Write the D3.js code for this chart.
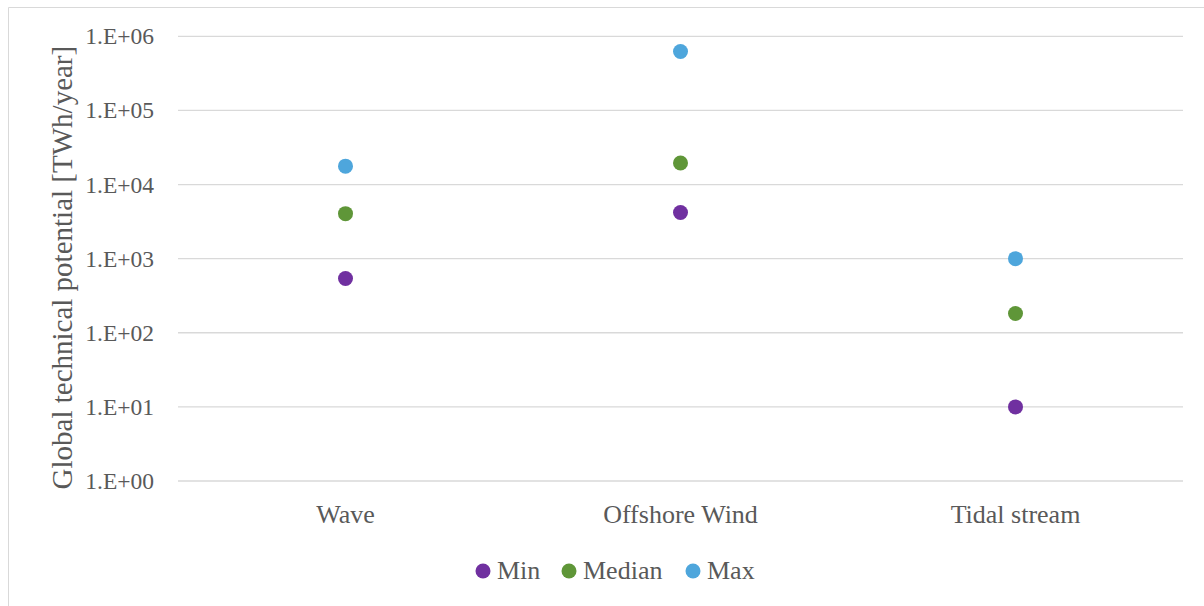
<!DOCTYPE html>
<html>
<head>
<meta charset="utf-8">
<script src="https://cdn.jsdelivr.net/npm/d3@7"></script>
<style>
  html, body { margin: 0; padding: 0; background: #fff; }
  svg { display: block; }
  text { font-family: "Liberation Serif", "DejaVu Serif", serif; fill: #595959; }
</style>
</head>
<body>
<svg id="chart" width="1204" height="606"></svg>
<script>
// Technology categories on the x axis
const categories = ["Wave", "Offshore Wind", "Tidal stream"];
// Global technical potential, TWh/year, per category
const minValues = [540, 4200, 10];
const medianValues = [4050, 19500, 182];
const maxValues = [17700, 625000, 1000];
// Series names and colours for the legend
const seriesNames = ["Min", "Median", "Max"];
const seriesColors = ["#7030a0", "#5f9638", "#4ea6dc"];
// Decade ticks on the log axis
const tickValues = [1, 10, 100, 1000, 10000, 100000, 1000000];
const tickLabels = ["1.E+00", "1.E+01", "1.E+02", "1.E+03", "1.E+04", "1.E+05", "1.E+06"];
const yTitle = "Global technical potential [TWh/year]";

const series = [minValues, medianValues, maxValues];

const svg = d3.select("#chart");
const W = 1204, H = 606;
const plot = { left: 178, right: 1183, top: 36.3, bottom: 481 };

// chart frame
svg.append("path")
  .attr("d", `M8.5,${H} V7.5 H${W}`)
  .attr("fill", "none")
  .attr("stroke", "#d9d9d9")
  .attr("stroke-width", 1);

const x = d3.scaleBand().domain(categories).range([plot.left, plot.right]);
const y = d3.scaleLog().domain([1, 1e6]).range([plot.bottom, plot.top]);

// horizontal gridlines
svg.append("g")
  .selectAll("line")
  .data(tickValues)
  .join("line")
  .attr("x1", plot.left).attr("x2", plot.right)
  .attr("y1", d => y(d)).attr("y2", d => y(d))
  .attr("stroke", "#d9d9d9")
  .attr("stroke-width", 1.3);

// y axis labels
const yAxis = d3.axisLeft(y)
  .tickValues(tickValues)
  .tickFormat((d, i) => tickLabels[i])
  .tickSize(0)
  .tickPadding(24);
const gy = svg.append("g").attr("transform", `translate(${plot.left},0)`).call(yAxis);
gy.select(".domain").remove();
gy.selectAll("text")
  .attr("font-family", null)
  .style("font-size", "23.5px")
  .attr("fill", "#595959");

// x axis labels
const xAxis = d3.axisBottom(x).tickSize(0).tickPadding(0);
const gx = svg.append("g").attr("transform", `translate(0,${plot.bottom})`).call(xAxis);
gx.select(".domain").remove();
gx.selectAll("text")
  .attr("font-family", null)
  .attr("dy", null)
  .attr("y", 42)
  .style("font-size", "26px")
  .attr("fill", "#595959");

// y axis title
svg.append("text")
  .attr("transform", `translate(72,${(plot.top + plot.bottom) / 2 + 9}) rotate(-90)`)
  .attr("text-anchor", "middle")
  .style("font-size", "29px")
  .text(yTitle);

// data points
series.forEach((vals, si) => {
  svg.append("g")
    .selectAll("circle")
    .data(vals)
    .join("circle")
    .attr("cx", (d, i) => x(categories[i]) + x.bandwidth() / 2)
    .attr("cy", d => y(d))
    .attr("r", 7.5)
    .attr("fill", seriesColors[si]);
});

// legend
const legendX = [483, 569, 693];
const lg = svg.append("g");
seriesNames.forEach((name, i) => {
  lg.append("circle")
    .attr("cx", legendX[i]).attr("cy", 571)
    .attr("r", 7.5)
    .attr("fill", seriesColors[i]);
  lg.append("text")
    .attr("x", legendX[i] + 14).attr("y", 579)
    .style("font-size", "26px")
    .text(name);
});
</script>
</body>
</html>
